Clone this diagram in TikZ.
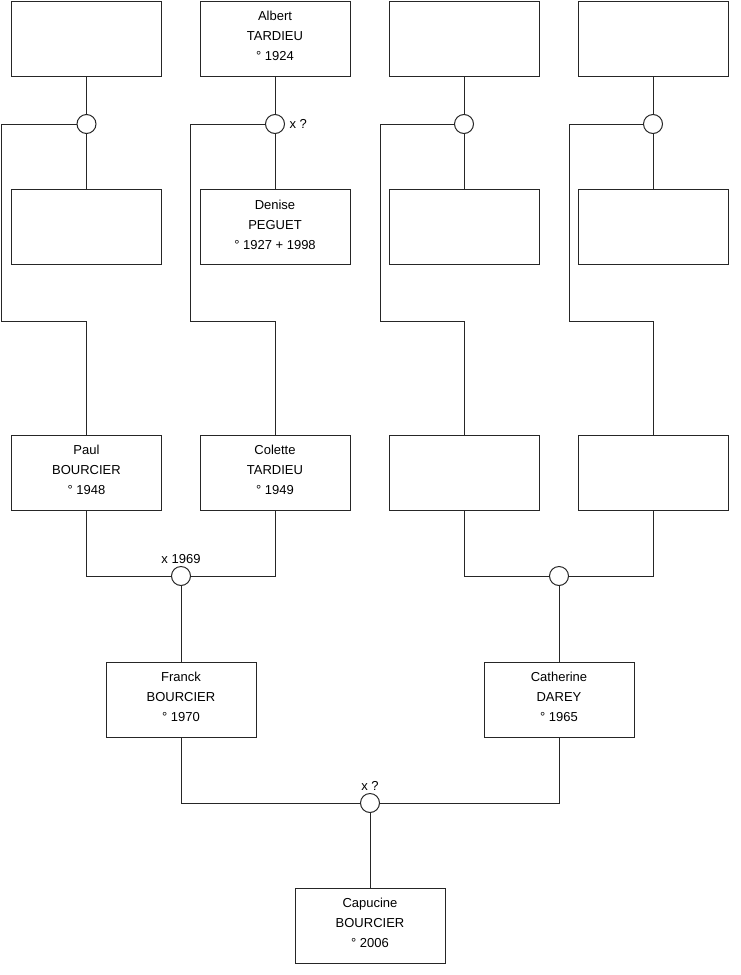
\documentclass[tikz,border=0pt]{standalone}
\usepackage{fontspec}
\setmainfont{Liberation Sans}
\begin{document}
\begin{tikzpicture}[x=1pt, y=-1pt, line width=1pt, draw=black!85,
		person/.style={draw, rectangle, minimum width=150pt, minimum height=75pt,
			inner sep=0pt, align=center, text depth=5pt, font=\fontsize{13}{20}\selectfont},
		union/.style={draw, circle, minimum size=19pt, inner sep=0pt, fill=white},
		wedding/.style={font=\fontsize{13}{15}\selectfont, inner sep=1pt}]
	\useasboundingbox (0,0) rectangle (740,975);
	% great-grandparents
	\node [person] (top1) at (86.5,38.5) {};
	\node [person] (top2) at (275,38.5) {Albert\\TARDIEU\\° 1924};
	\node [person] (top3) at (464,38.5) {};
	\node [person] (top4) at (653,38.5) {};
	\node [person] (mid1) at (86.5,227) {};
	\node [person] (mid2) at (275,227) {Denise\\PEGUET\\° 1927 + 1998};
	\node [person] (mid3) at (464,227) {};
	\node [person] (mid4) at (653,227) {};
	% grandparents
	\node [person] (paul) at (86.5,472.5) {Paul\\BOURCIER\\° 1948};
	\node [person] (colette) at (275,472.5) {Colette\\TARDIEU\\° 1949};
	\node [person] (gp3) at (464,472.5) {};
	\node [person] (gp4) at (653,472.5) {};
	% parents
	\node [person] (franck) at (181,699.5) {Franck\\BOURCIER\\° 1970};
	\node [person] (catherine) at (559,699.5) {Catherine\\DAREY\\° 1965};
	\node [person] (capucine) at (370,925.5) {Capucine\\BOURCIER\\° 2006};
	% unions
	\foreach \i/\x in {1/86.5,2/275,3/464,4/653}
		{
			\draw (top\i) -- (mid\i);
			\node [union] (u\i) at (\x,124) {};
		}
	\draw (u1.west) -| (1,321) -| (paul.north);
	\draw (u2.west) -| (190,321) -| (colette.north);
	\draw (u3.west) -| (380,321) -| (gp3.north);
	\draw (u4.west) -| (569,321) -| (gp4.north);
	\node [wedding, anchor=west] at ([xshift=3pt]u2.east) {x ?};
	% marriages
	\node [union] (w1) at (181,576) {};
	\node [union] (w2) at (559,576) {};
	\node [union] (w3) at (370,803) {};
	\draw (paul.south) |- (w1.west);
	\draw (colette.south) |- (w1.east);
	\draw (w1) -- (franck);
	\draw (gp3.south) |- (w2.west);
	\draw (gp4.south) |- (w2.east);
	\draw (w2) -- (catherine);
	\draw (franck.south) |- (w3.west);
	\draw (catherine.south) |- (w3.east);
	\draw (w3) -- (capucine);
	\node [wedding, anchor=south] at ([yshift=1pt]w1.north) {x 1969};
	\node [wedding, anchor=south] at ([yshift=1pt]w3.north) {x ?};
\end{tikzpicture}
\end{document}
